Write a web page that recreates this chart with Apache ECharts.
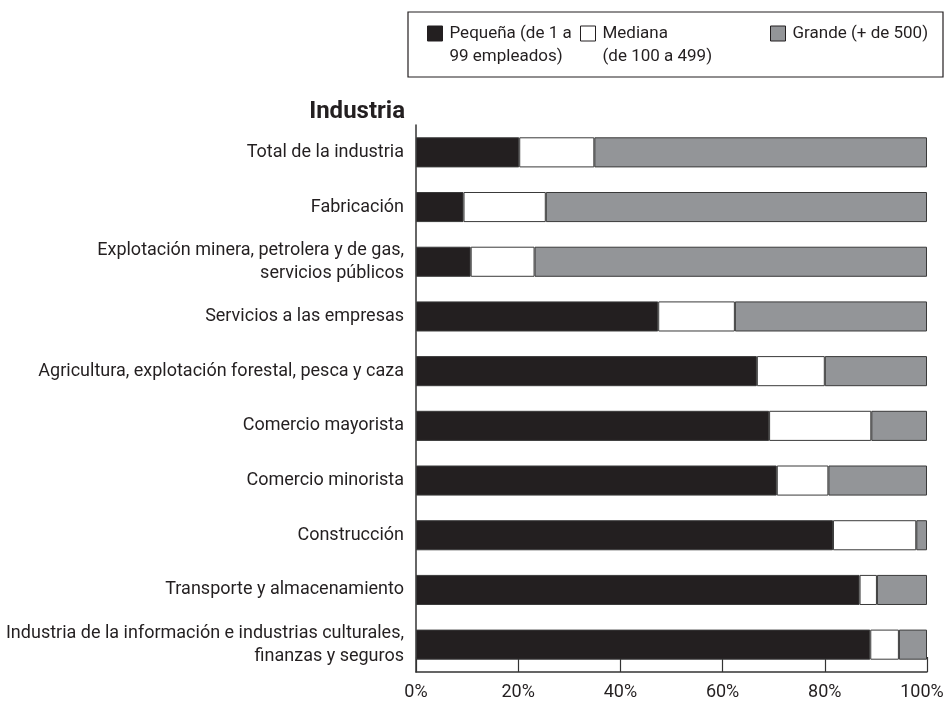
<!DOCTYPE html>
<html>
<head>
<meta charset="utf-8">
<script src="https://cdn.jsdelivr.net/npm/echarts@6/dist/echarts.min.js"></script>
<style>
html,body{margin:0;padding:0;background:#fff;}
#chart{width:947px;height:703px;}
</style>
</head>
<body>
<div id="chart"></div>
<script>
var categories = [
  'Total de la industria',
  'Fabricación',
  'Explotación minera, petrolera y de gas,\nservicios públicos',
  'Servicios a las empresas',
  'Agricultura, explotación forestal, pesca y caza',
  'Comercio mayorista',
  'Comercio minorista',
  'Construcción',
  'Transporte y almacenamiento',
  'Industria de la información e industrias culturales,\nfinanzas y seguros'
];
var seriesNames = ['Pequeña (de 1 a 99 empleados)', 'Mediana (de 100 a 499)', 'Grande (+ de 500)'];
var legendLabels = ['Pequeña (de 1 a\n99 empleados)', 'Mediana\n(de 100 a 499)', 'Grande (+ de 500)\n '];
var pequena = [20.2, 9.3, 10.7, 47.4, 66.7, 69.1, 70.6, 81.6, 86.8, 88.9];
var mediana = [14.7, 16.1, 12.5, 15.0, 13.3, 20.0, 10.1, 16.3, 3.4, 5.6];
var grande  = [65.1, 74.6, 76.8, 37.6, 20.0, 10.9, 19.3, 2.1, 9.8, 5.5];
var xTicks = [0, 20, 40, 60, 80, 100];
var titleText = 'Industria';

var FONT = 'Roboto, "DejaVu Sans Condensed", sans-serif';
var FS = 18;
var INK = '#231f20';
var colors = ['#231f20', '#ffffff', '#939598'];
var values = [pequena, mediana, grande];

var chart = echarts.init(document.getElementById('chart'), null, {renderer: 'canvas'});

var legendLefts = [427, 580, 770];
var legends = seriesNames.map(function (n, i) {
  return {
    data: [n],
    left: legendLefts[i],
    top: -1,
    padding: 0,
    orient: 'horizontal',
    selectedMode: false,
    icon: 'rect',
    itemWidth: 15,
    itemHeight: 15,
    itemStyle: {borderColor: INK, borderWidth: 1},
    formatter: function () { return '\n' + legendLabels[i]; },
    textStyle: {
      fontFamily: FONT, fontSize: 17, color: INK, lineHeight: 23,
      padding: [0, 0, 0, 2]
    }
  };
});

var option = {
  animation: false,
  backgroundColor: '#fff',
  title: {
    text: titleText,
    right: 542,
    top: 100,
    padding: 0,
    textStyle: {fontFamily: FONT, fontSize: 24, fontWeight: 'bold', color: INK}
  },
  legend: legends,
  graphic: [{
    type: 'rect',
    shape: {x: 408, y: 12, width: 535, height: 65},
    style: {fill: 'none', stroke: INK, lineWidth: 1.2}
  }],
  grid: {left: 416, right: 20, top: 125, bottom: 31, containLabel: false, outerBoundsMode: 'none'},
  xAxis: {
    type: 'value',
    min: xTicks[0],
    max: xTicks[xTicks.length - 1],
    interval: 20,
    axisLine: {show: true, lineStyle: {color: '#333', width: 1.5}},
    axisTick: {show: true, inside: true, length: 15, lineStyle: {color: '#333', width: 1.2}},
    splitLine: {show: false},
    axisLabel: {
      margin: 11,
      fontFamily: FONT, fontSize: FS, color: INK,
      formatter: function (v) {
        return v === xTicks[xTicks.length - 1] ? '{m|' + v + '%}' : v + '%';
      },
      rich: {m: {fontFamily: FONT, fontSize: FS, color: INK, padding: [0, 10, 0, 0]}}
    }
  },
  yAxis: {
    type: 'category',
    data: categories,
    inverse: true,
    axisLine: {show: true, lineStyle: {color: '#333', width: 1.5}},
    axisTick: {show: false},
    axisLabel: {
      margin: 12, fontFamily: FONT, fontSize: FS, color: INK, lineHeight: 23, align: 'right'
    }
  },
  series: seriesNames.map(function (n, i) {
    return {
      name: n,
      type: 'bar',
      stack: 'total',
      barWidth: '55%',
      data: values[i],
      itemStyle: {color: colors[i], borderColor: '#3a3a3a', borderWidth: 1},
      emphasis: {disabled: true}
    };
  })
};
chart.setOption(option);
</script>
</body>
</html>
